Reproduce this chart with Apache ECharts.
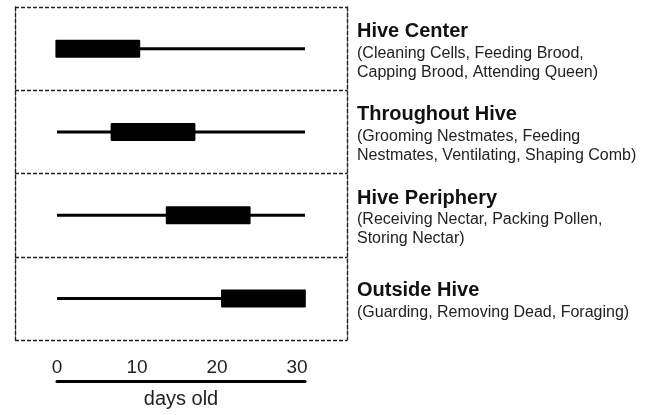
<!DOCTYPE html>
<html>
<head>
<meta charset="utf-8">
<script src="https://cdn.jsdelivr.net/npm/echarts@6/dist/echarts.min.js"></script>
<style>
html,body{margin:0;padding:0;background:#fff;}
#chart{width:647px;height:415px;}
</style>
</head>
<body>
<div id="chart"></div>
<script>
// ---- data ----
const zones = ['Hive Center', 'Throughout Hive', 'Hive Periphery', 'Outside Hive'];
const tasks = [
  '(Cleaning Cells, Feeding Brood,\nCapping Brood, Attending Queen)',
  '(Grooming Nestmates, Feeding\nNestmates, Ventilating, Shaping Comb)',
  '(Receiving Nectar, Packing Pollen,\nStoring Nectar)',
  '(Guarding, Removing Dead, Foraging)'
];
const rangeStart = [0, 0, 0, 0];
const rangeEnd = [31, 31, 31, 31];
const peakStart = [-0.2, 6.7, 13.6, 20.5];
const peakEnd = [10.4, 17.3, 24.2, 31.1];
const dayTicks = [0, 10, 20, 30];
const axisTitle = 'days old';

// ---- chart ----
const FONT = '"Liberation Sans", Arial, sans-serif';
const seriesData = zones.map((z, i) => [i, rangeStart[i], rangeEnd[i], peakStart[i], peakEnd[i]]);
const dash = { color: '#222', width: 1.4, type: [4, 2] };

const chart = echarts.init(document.getElementById('chart'), null, { renderer: 'canvas' });
chart.setOption({
  animation: false,
  backgroundColor: '#fff',
  textStyle: { fontFamily: FONT },
  grid: [
    { left: 15, right: 300, top: 7, bottom: 75 },
    { left: 57, right: 342, top: 345, bottom: 33.5 }
  ],
  xAxis: [
    { gridIndex: 0, type: 'value', min: -5.25, max: 36.25, show: false },
    {
      gridIndex: 1, type: 'value', min: 0, max: 31, interval: 10, position: 'bottom',
      axisLine: { show: true, onZero: false, lineStyle: { color: '#000', width: 3 } },
      axisTick: { show: false },
      splitLine: { show: false },
      axisLabel: {
        inside: true, margin: 4, fontSize: 19, color: '#222', fontFamily: FONT,
        showMaxLabel: false,
        formatter: v => dayTicks.includes(v) ? String(v) : ''
      },
      name: axisTitle, nameLocation: 'middle', nameGap: 8,
      nameTextStyle: { fontSize: 20, color: '#222', fontFamily: FONT, verticalAlign: 'top' }
    }
  ],
  yAxis: [
    {
      gridIndex: 0, type: 'category', data: zones, inverse: true, position: 'left',
      axisLine: { show: true, onZero: false, lineStyle: dash },
      axisTick: { show: false }, axisLabel: { show: false },
      splitLine: { show: true, lineStyle: dash }
    },
    {
      gridIndex: 0, type: 'category', data: zones, inverse: true, position: 'right',
      axisLine: { show: true, onZero: false, lineStyle: dash },
      axisTick: { show: false },
      splitLine: { show: false },
      axisLabel: {
        margin: 10, align: 'left', padding: [4, 0, 0, 0],
        formatter: (v) => {
          const idx = zones.indexOf(v);
          const lines = tasks[idx].split('\n').map(l => '{s|' + l + '}').join('\n');
          return '{t|' + v + '}\n' + lines;
        },
        rich: {
          t: { fontSize: 20, fontWeight: 'bold', color: '#111', lineHeight: 24, fontFamily: FONT },
          s: { fontSize: 16, color: '#222', lineHeight: 19, fontFamily: FONT }
        }
      }
    },
    { gridIndex: 1, type: 'value', show: false }
  ],
  series: [{
    type: 'custom',
    xAxisIndex: 0, yAxisIndex: 0,
    data: seriesData,
    encode: { y: 0, x: [1, 2, 3, 4] },
    renderItem: (params, api) => {
      const cat = api.value(0);
      const w0 = api.coord([api.value(1), cat]);
      const w1 = api.coord([api.value(2), cat]);
      const b0 = api.coord([api.value(3), cat]);
      const b1 = api.coord([api.value(4), cat]);
      const bh = 18;
      return {
        type: 'group',
        children: [
          { type: 'line', shape: { x1: w0[0], y1: w0[1], x2: w1[0], y2: w1[1] },
            style: { stroke: '#000', lineWidth: 3 } },
          { type: 'rect', shape: { x: b0[0], y: b0[1] - bh / 2, width: b1[0] - b0[0], height: bh, r: 1 },
            style: { fill: '#000' } }
        ]
      };
    }
  }]
});
</script>
</body>
</html>
